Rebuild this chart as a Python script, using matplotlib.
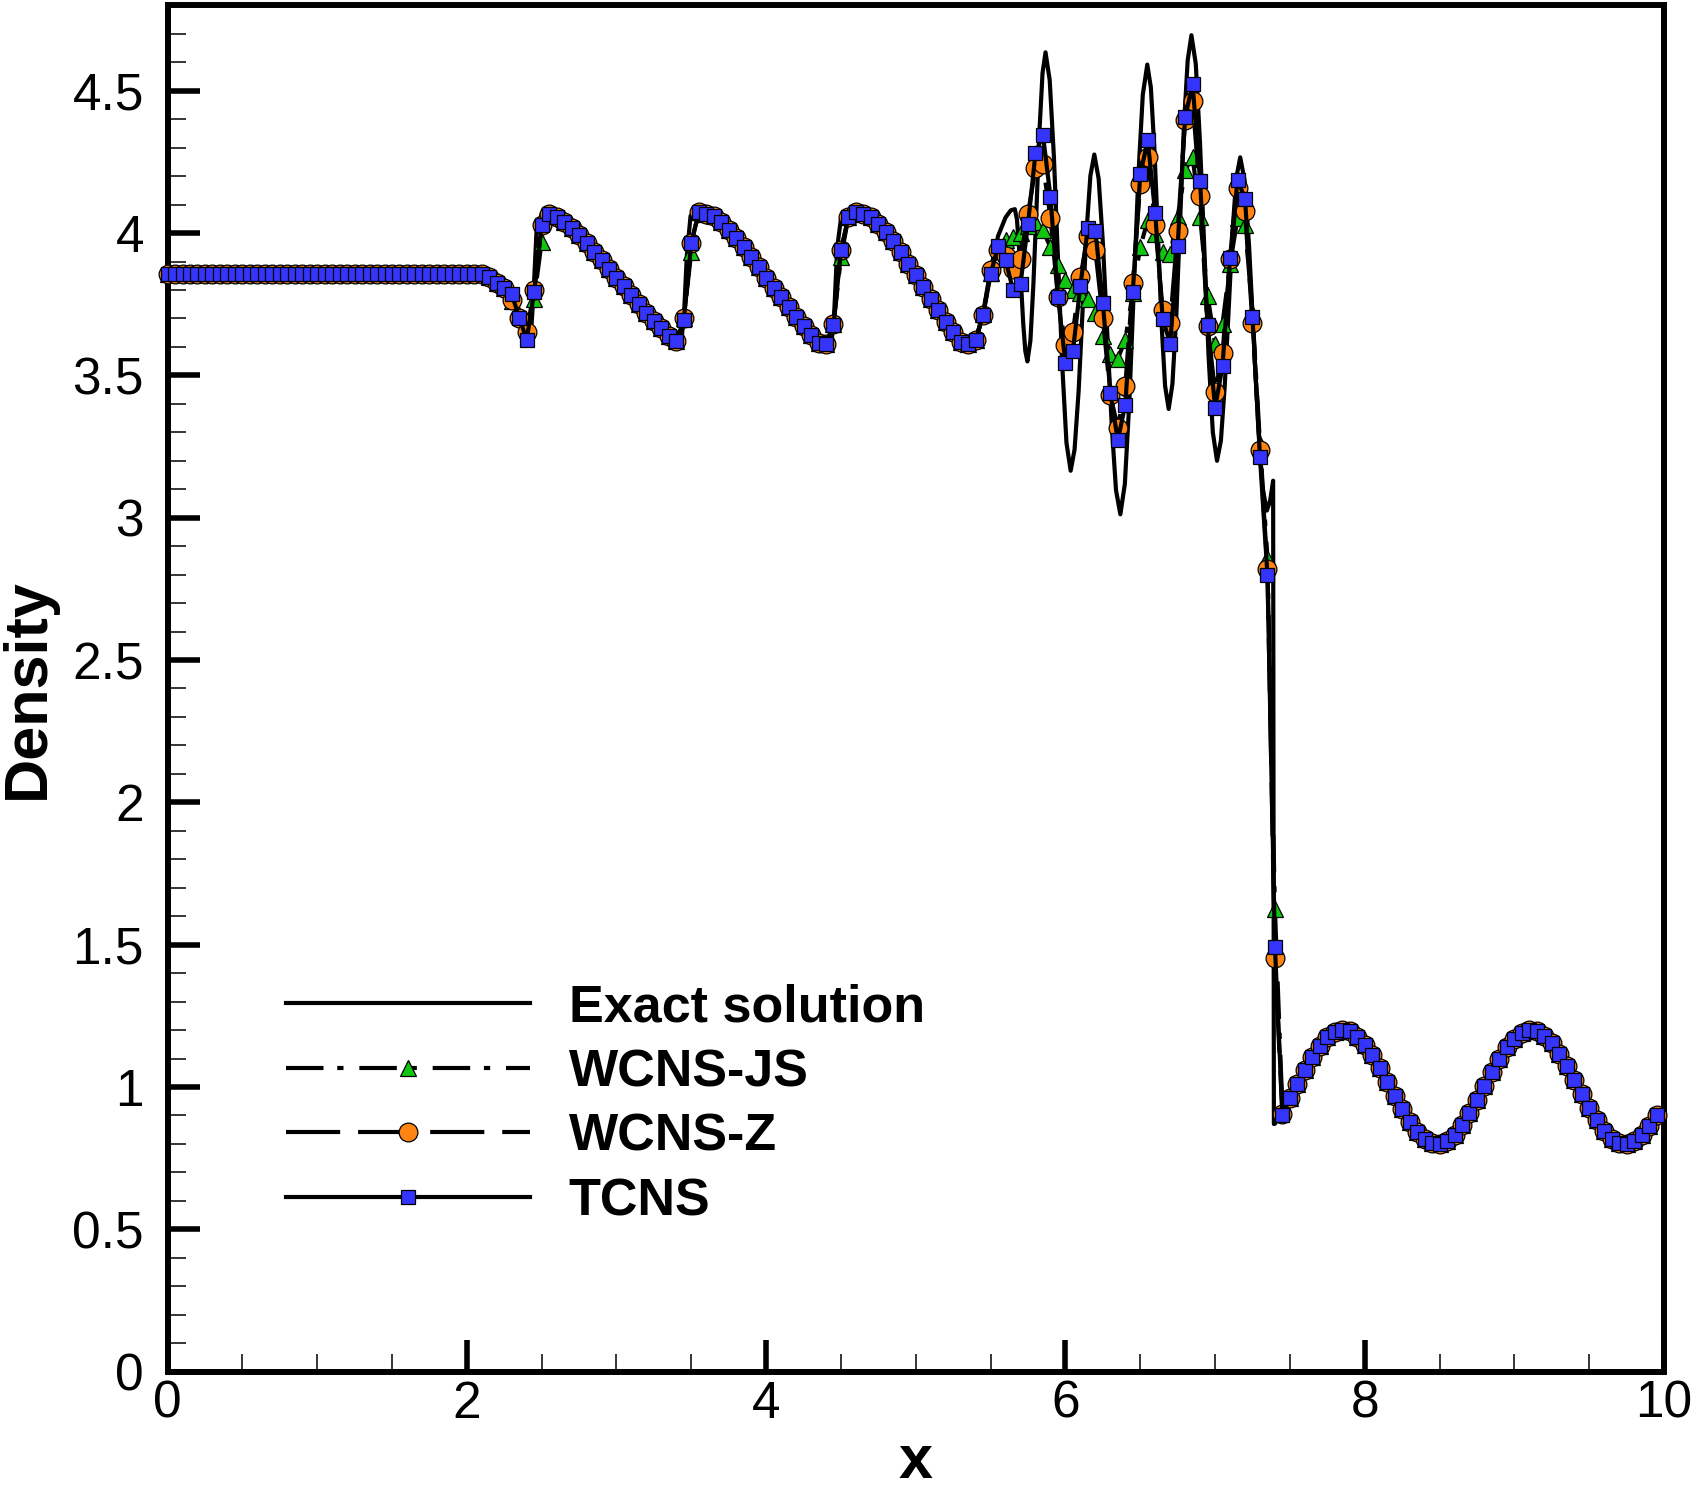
import numpy as np
import matplotlib
matplotlib.use('Agg')
import matplotlib.pyplot as plt
from matplotlib.ticker import MultipleLocator, FuncFormatter

plt.rcParams['font.family'] = ['Liberation Sans', 'DejaVu Sans']

# ---- data ----
# scheme markers sit on x = 0, 0.05, ..., 9.95
x_pts = np.arange(200) * 0.05

# 0.00 - 2.10 : flat post-shock state
rho_flat = [3.857] * 43

# 2.15 - 5.40 : entropy wave train (TCNS values, others almost identical)
rho_waves = [3.846, 3.826, 3.806, 3.786, 3.703, 3.626, 3.793, 4.027,
             4.068, 4.056, 4.039, 4.019, 3.992, 3.965, 3.934, 3.904, 3.875, 3.843,
             3.813, 3.781, 3.752, 3.719, 3.692, 3.665, 3.638, 3.622, 3.694, 3.965,
             4.074, 4.068, 4.060, 4.039, 4.012, 3.984, 3.951, 3.916, 3.881, 3.843,
             3.808, 3.775, 3.740, 3.705, 3.672, 3.641, 3.615, 3.609, 3.676, 3.939,
             4.056, 4.074, 4.068, 4.056, 4.033, 4.004, 3.972, 3.933, 3.893, 3.852,
             3.811, 3.770, 3.729, 3.688, 3.653, 3.617, 3.609, 3.623]

# points where the WENO-type schemes differ at the wave fronts
js_fronts = {2.30: 3.760, 2.35: 3.712, 2.40: 3.662, 2.45: 3.770, 2.50: 3.970,
             3.45: 3.700, 3.50: 3.935, 4.45: 3.680, 4.50: 3.915}
z_fronts = {2.30: 3.765, 2.35: 3.700, 2.40: 3.653, 2.45: 3.800,
            3.45: 3.700, 4.45: 3.680}

# 5.45 - 7.45 : high frequency region and shock
tcns_osc = [3.712, 3.855, 3.955, 3.905, 3.800, 3.822, 4.032, 4.281, 4.344, 4.127,
            3.777, 3.545, 3.585, 3.815, 4.019, 4.009, 3.756, 3.439, 3.272, 3.397,
            3.792, 4.206, 4.326, 4.069, 3.698, 3.612, 3.955, 4.408, 4.523, 4.182,
            3.677, 3.386, 3.533, 3.913, 4.187, 4.121, 3.706, 3.213, 2.799, 1.492,
            0.903]
z_osc = [3.711, 3.869, 3.940, 3.920, 3.875, 3.910, 4.068, 4.229, 4.241, 4.054,
         3.775, 3.606, 3.652, 3.846, 3.991, 3.940, 3.702, 3.432, 3.315, 3.462,
         3.823, 4.173, 4.268, 4.030, 3.728, 3.683, 4.007, 4.397, 4.465, 4.129,
         3.675, 3.442, 3.580, 3.908, 4.160, 4.079, 3.683, 3.237, 2.820, 1.453,
         0.905]
js_osc = [3.715, 3.860, 3.950, 3.975, 3.985, 4.000, 4.025, 4.040, 4.010, 3.950,
          3.888, 3.834, 3.800, 3.788, 3.770, 3.718, 3.640, 3.576, 3.559, 3.625,
          3.790, 3.951, 4.045, 3.998, 3.934, 3.925, 4.057, 4.221, 4.266, 4.058,
          3.780, 3.610, 3.682, 3.890, 4.052, 4.030, 3.720, 3.260, 2.860, 1.625,
          0.920]

# 7.50 - 9.95 : pre-shock sine wave
rho_post = [0.960, 1.010, 1.059, 1.105, 1.144, 1.174, 1.193, 1.200, 1.195, 1.177,
            1.149, 1.111, 1.067, 1.018, 0.968, 0.921, 0.877, 0.842, 0.816, 0.803,
            0.801, 0.811, 0.833, 0.866, 0.907, 0.954, 1.004, 1.053, 1.099, 1.139,
            1.170, 1.191, 1.200, 1.196, 1.180, 1.153, 1.117, 1.073, 1.025, 0.975,
            0.927, 0.883, 0.846, 0.819, 0.804, 0.800, 0.809, 0.830, 0.862, 0.901]

# exact solution
exact_x_left = [0.00, 2.10, 2.20, 2.30, 2.35, 2.40, 2.425, 2.445, 2.465, 2.50,
                2.55, 2.65, 2.75, 2.85, 2.95, 3.05, 3.15, 3.25, 3.35, 3.40,
                3.43, 3.45, 3.47, 3.495, 3.53, 3.60, 3.70, 3.80, 3.90, 4.00,
                4.10, 4.20, 4.30, 4.40, 4.435, 4.455, 4.475, 4.50, 4.54, 4.60,
                4.70, 4.80, 4.90, 5.00, 5.10, 5.20, 5.30, 5.36, 5.40, 5.45,
                5.50, 5.55, 5.60, 5.635, 5.662]
exact_rho_left = [3.857, 3.857, 3.826, 3.786, 3.71, 3.64, 3.618, 3.78, 4.00, 4.068,
                  4.07, 4.039, 3.992, 3.934, 3.875, 3.813, 3.752, 3.692, 3.638, 3.622,
                  3.608, 3.70, 3.92, 4.06, 4.078, 4.068, 4.039, 3.984, 3.916, 3.843,
                  3.775, 3.705, 3.641, 3.609, 3.605, 3.72, 3.95, 4.05, 4.076, 4.074,
                  4.056, 4.004, 3.933, 3.852, 3.770, 3.688, 3.617, 3.605, 3.623, 3.72,
                  3.87, 3.99, 4.055, 4.08, 4.084]
exact_x_osc = [5.676, 5.690, 5.704, 5.718, 5.732, 5.746, 5.766, 5.786, 5.807, 5.827,
               5.847, 5.867, 5.895, 5.923, 5.951, 5.979, 6.007, 6.035, 6.061, 6.088,
               6.114, 6.140, 6.167, 6.193, 6.222, 6.251, 6.280, 6.309, 6.338, 6.367,
               6.397, 6.427, 6.457, 6.487, 6.517, 6.547, 6.571, 6.595, 6.619, 6.642,
               6.666, 6.690, 6.715, 6.741, 6.766, 6.791, 6.817, 6.842, 6.871, 6.899,
               6.928, 6.956, 6.985, 7.013, 7.039, 7.065, 7.091, 7.116, 7.142, 7.168,
               7.198, 7.227, 7.257, 7.287, 7.316, 7.346, 7.368, 7.388, 7.393, 7.400,
               7.450]
exact_rho_osc = [4.048, 3.950, 3.816, 3.683, 3.585, 3.549, 3.622, 3.821, 4.092, 4.364,
                 4.562, 4.635, 4.537, 4.268, 3.900, 3.533, 3.263, 3.165, 3.239, 3.443,
                 3.721, 3.998, 4.202, 4.276, 4.191, 3.960, 3.644, 3.328, 3.097, 3.012,
                 3.118, 3.407, 3.802, 4.197, 4.486, 4.592, 4.511, 4.290, 3.987, 3.685,
                 3.463, 3.382, 3.470, 3.710, 4.039, 4.367, 4.607, 4.695, 4.595, 4.321,
                 3.948, 3.574, 3.300, 3.200, 3.271, 3.467, 3.733, 4.000, 4.195, 4.266,
                 4.183, 3.956, 3.646, 3.336, 3.108, 3.025, 3.060, 3.130, 0.870, 0.871,
                 0.913]
exact_end = (10.0, 0.93)


def build_series(osc, fronts=None):
    vals = np.array(rho_flat + rho_waves + osc + rho_post, dtype=float)
    if fronts:
        for xf, v in fronts.items():
            vals[int(round(xf / 0.05))] = v
    return vals


rho_js = build_series(js_osc, js_fronts)
rho_z = build_series(z_osc, z_fronts)
rho_tcns = build_series(tcns_osc)

exact_x = np.concatenate([exact_x_left, exact_x_osc, x_pts[150:], [exact_end[0]]])
exact_rho = np.concatenate([exact_rho_left, exact_rho_osc, rho_post, [exact_end[1]]])

# ---- figure ----
fig = plt.figure(figsize=(16.94, 14.88), dpi=100)
ax = fig.add_axes([0.0989, 0.0782, 0.8834, 0.9182])

lw = 3.0
ax.plot(exact_x, exact_rho, color='k', lw=lw, label='Exact solution', zorder=2)
ax.plot(x_pts, rho_js, color='k', lw=lw, dashes=(9, 3.3, 1.5, 3.8),
        marker='^', ms=11, mfc='#11c511', mec='k', mew=0.9,
        label='WCNS-JS', clip_on=False, zorder=3)
ax.plot(x_pts, rho_z, color='k', lw=lw, dashes=(13, 4.3),
        marker='o', ms=13.5, mfc='#ff8412', mec='k', mew=0.9,
        label='WCNS-Z', clip_on=False, zorder=4)
ax.plot(x_pts, rho_tcns, color='k', lw=lw,
        marker='s', ms=9.6, mfc='#3434fa', mec='k', mew=0.9,
        label='TCNS', clip_on=False, zorder=5)

ax.set_xlim(0, 10)
ax.set_ylim(0, 4.8)

ax.xaxis.set_major_locator(MultipleLocator(2))
ax.xaxis.set_minor_locator(MultipleLocator(0.5))
ax.yaxis.set_major_locator(MultipleLocator(0.5))
ax.yaxis.set_minor_locator(MultipleLocator(0.1))
fmt = FuncFormatter(lambda v, p: '%g' % v)
ax.xaxis.set_major_formatter(fmt)
ax.yaxis.set_major_formatter(fmt)

ax.tick_params(which='both', direction='in', top=False, right=False)
ax.tick_params(which='major', length=23, width=4, labelsize=37)
ax.tick_params(which='minor', length=13, width=1.1)
ax.tick_params(axis='y', which='major', pad=17)
ax.tick_params(axis='x', which='major', pad=6)

for sp in ax.spines.values():
    sp.set_linewidth(4.3)

ax.set_ylabel('Density', fontsize=44, fontweight='bold')
ax.yaxis.set_label_coords(-0.074, 0.5)
ax.set_xlabel('x', fontsize=44, fontweight='bold', va='baseline')
ax.xaxis.set_label_coords(0.5, -0.078)

leg = ax.legend(loc='center left', bbox_to_anchor=(0.169, 0.2575),
                bbox_transform=fig.transFigure, frameon=False,
                numpoints=1, handlelength=4.68, handletextpad=0.74,
                labelspacing=0.3, borderpad=0, borderaxespad=0,
                prop={'size': 37.5, 'weight': 'bold'})

fig.savefig('out.png', dpi=100)
